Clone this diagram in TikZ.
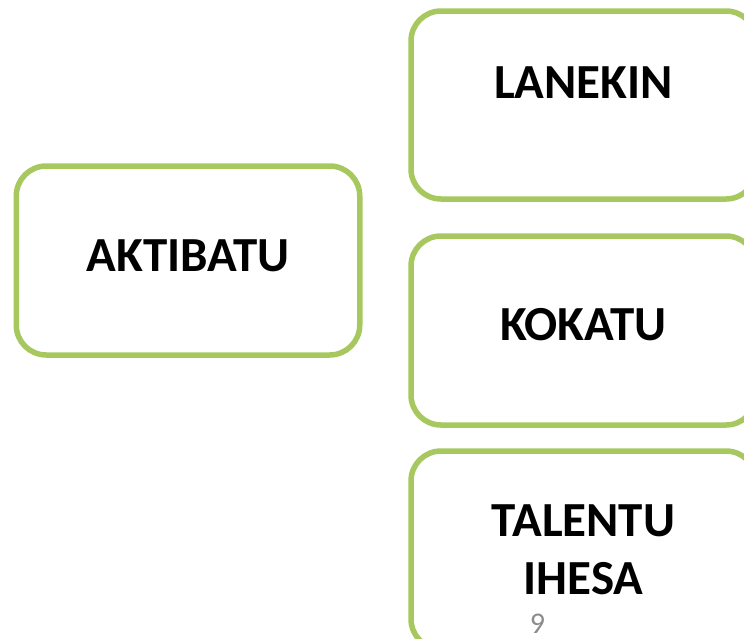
\documentclass[tikz,border=0pt]{standalone}
\usepackage{fontspec}
\setmainfont{Carlito}
\usepackage{tikz}
\definecolor{boxgreen}{HTML}{A6C85E}
\definecolor{numgray}{HTML}{8C8C8C}
\tikzset{%
	block/.style    = {draw=boxgreen, line width=5.5pt, rectangle, rounded corners=30pt,
		fill=white, inner sep=0pt, align=center,
		font=\fontsize{49}{58}\selectfont\bfseries}, % Box
	pagenum/.style  = {text=numgray, inner sep=0pt,
		font=\fontsize{30}{36}\selectfont} % Slide number
}

\begin{document}
\begin{tikzpicture}[x=1pt,y=-1pt]
	
	\useasboundingbox (0,0) rectangle (744,638);
	\clip (0,0) rectangle (744,638);
	
	\node[block][minimum width=343.5pt,minimum height=189pt,text depth=9pt] at (188,260.5) (aktibatu) {AKTIBATU};
	\node[block][minimum width=345pt,minimum height=188pt,text depth=44pt] at (583.5,105) (lanekin) {LANEKIN};
	\node[block][minimum width=345pt,minimum height=189pt,text depth=12pt] at (583.5,330.5) (kokatu) {KOKATU};
	\node[block][minimum width=345pt,minimum height=198pt] at (583.5,550) (talentu) {TALENTU\\IHESA};
%	\node[block] at (583.5,760) (hurrengoa) {};
	\node[pagenum] at (537.5,623.5) (orria) {9};
	
\end{tikzpicture}
\end{document}
